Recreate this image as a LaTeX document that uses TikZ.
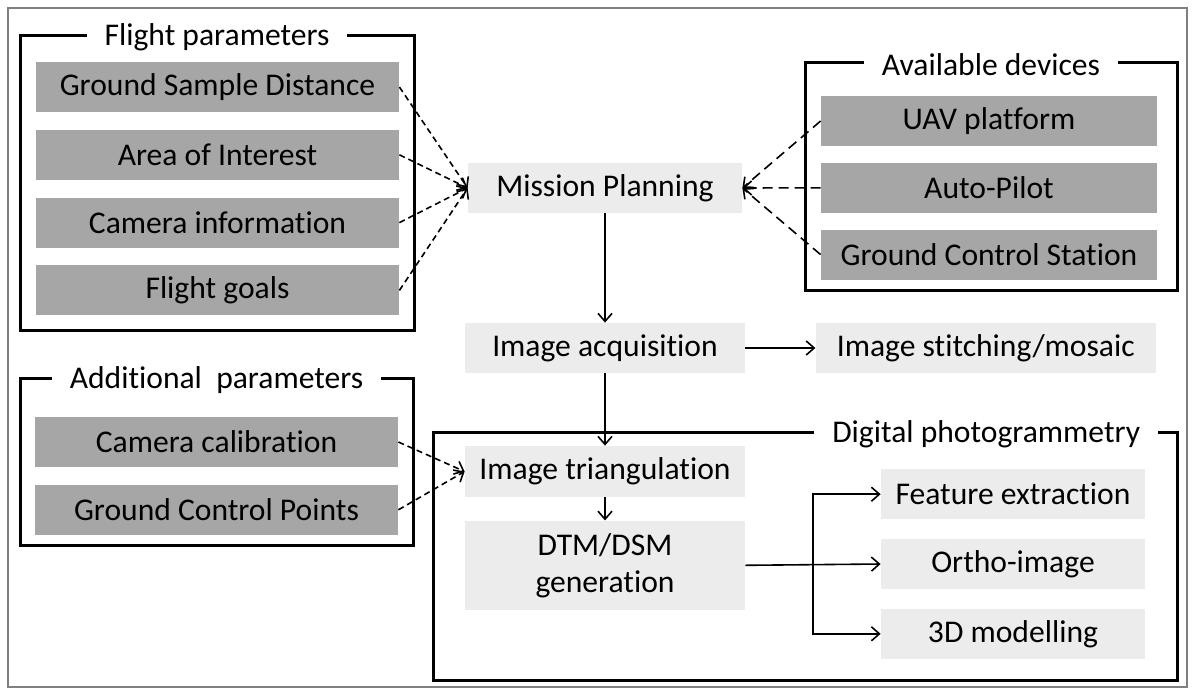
\documentclass[tikz,border=0pt]{standalone}
\usepackage{fontspec}
\setmainfont{Carlito}[Ligatures=NoCommon]
\usetikzlibrary{positioning,arrows.meta,calc}

\definecolor{darkbox}{RGB}{166,166,166}
\definecolor{lightbox}{RGB}{236,236,236}

\begin{document}
\begin{tikzpicture}[x=0.5pt, y=0.5pt, node distance=8.5pt, every node/.style={font=\fontsize{15.8}{18.5}\selectfont}, param/.style={fill=darkbox, minimum width=181.5pt, minimum height=25pt, inner sep=0pt}, device/.style={fill=darkbox, minimum width=168pt, minimum height=25pt, inner sep=0pt}, task/.style={fill=lightbox, minimum width=140pt, minimum height=25pt, inner sep=0pt}, product/.style={fill=lightbox, minimum width=132pt, minimum height=25pt, inner sep=0pt}, group/.style={draw, line width=1.5pt, inner sep=0pt}, grouptitle/.style={fill=white, inner xsep=9pt, inner ysep=2pt, yshift=-2pt}, flow/.style={-{Straight Barb[length=4pt,width=7pt]}, line width=0.8pt}, feed/.style={flow, dash pattern=on 3pt off 2pt}, link/.style={flow, dash pattern=on 5pt off 3pt}]
\useasboundingbox (0,0) rectangle (1192,-691);
\draw[gray, line width=0.6pt] (8,-8) rectangle (1187,-687);
\node[group, minimum width=197pt, minimum height=147.5pt] (fpbox) at (217,-182.5) {};
\node[group, minimum width=186pt, minimum height=114pt] (adbox) at (991,-176) {};
\node[group, minimum width=196.5pt, minimum height=83.5pt] (addbox) at (216.5,-461.5) {};
\node[group, minimum width=372pt, minimum height=124pt] (dpbox) at (805,-556) {};
\node[grouptitle] (fptitle) at (fpbox.north) {Flight parameters};
\node[grouptitle] (adtitle) at (adbox.north) {Available devices};
\node[grouptitle] (addtitle) at (addbox.north) {Additional~ parameters};
\node[grouptitle, anchor=east] (dptitle) at ([xshift=-10pt]dpbox.north east) {Digital photogrammetry};
\node[param] (gsd) at (217.5,-87) {Ground Sample Distance};
\node[param, below=of gsd] (aoi) {Area of Interest};
\node[param, below=of aoi] (cam) {Camera information};
\node[param, below=of cam] (goals) {Flight goals};
\node[task, minimum width=137pt] (mission) at (605,-188) {Mission Planning};
\node[device] (uav) at (989,-121) {UAV platform};
\node[device, below=8pt of uav] (pilot) {Auto-Pilot};
\node[device, below=8pt of pilot] (gcs) {Ground Control Station};
\node[task] (acq) at (605,-348) {Image acquisition};
\node[task, minimum width=170pt, right=35pt of acq] (stitch) {Image stitching/mosaic};
\node[param] (calib) at (216.5,-442) {Camera calibration};
\node[param, below=of calib] (gcp) {Ground Control Points};
\node[task, minimum height=25.5pt] (tri) at (605,-471.5) {Image triangulation};
\node[task, minimum height=44.5pt, align=center, below=11.5pt of tri] (dtm) {DTM/DSM\\generation};
\node[product] (ortho) at (1013,-564) {Ortho-image};
\node[product, above=9.5pt of ortho] (feat) {Feature extraction};
\node[product, below=9.5pt of ortho] (model) {3D modelling};
\coordinate (fork) at ($(dtm.east)!0.5!(ortho.west)$);
\foreach \src in {gsd,aoi,cam,goals} \draw[feed] (\src.east) -- (mission.west);
\foreach \src in {uav,pilot,gcs} \draw[link] (\src.west) -- (mission.east);
\draw[flow] (mission) -- (acq);
\draw[flow] (acq) -- (stitch);
\draw[flow] (acq) -- (tri);
\foreach \src in {calib,gcp} \draw[feed] (\src.east) -- (tri.west);
\draw[flow] (tri) -- (dtm);
\draw[flow] (dtm.east) -- (ortho.west);
\draw[flow] (fork) |- (feat.west);
\draw[flow] (fork) |- (model.west);
\end{tikzpicture}
\end{document}
